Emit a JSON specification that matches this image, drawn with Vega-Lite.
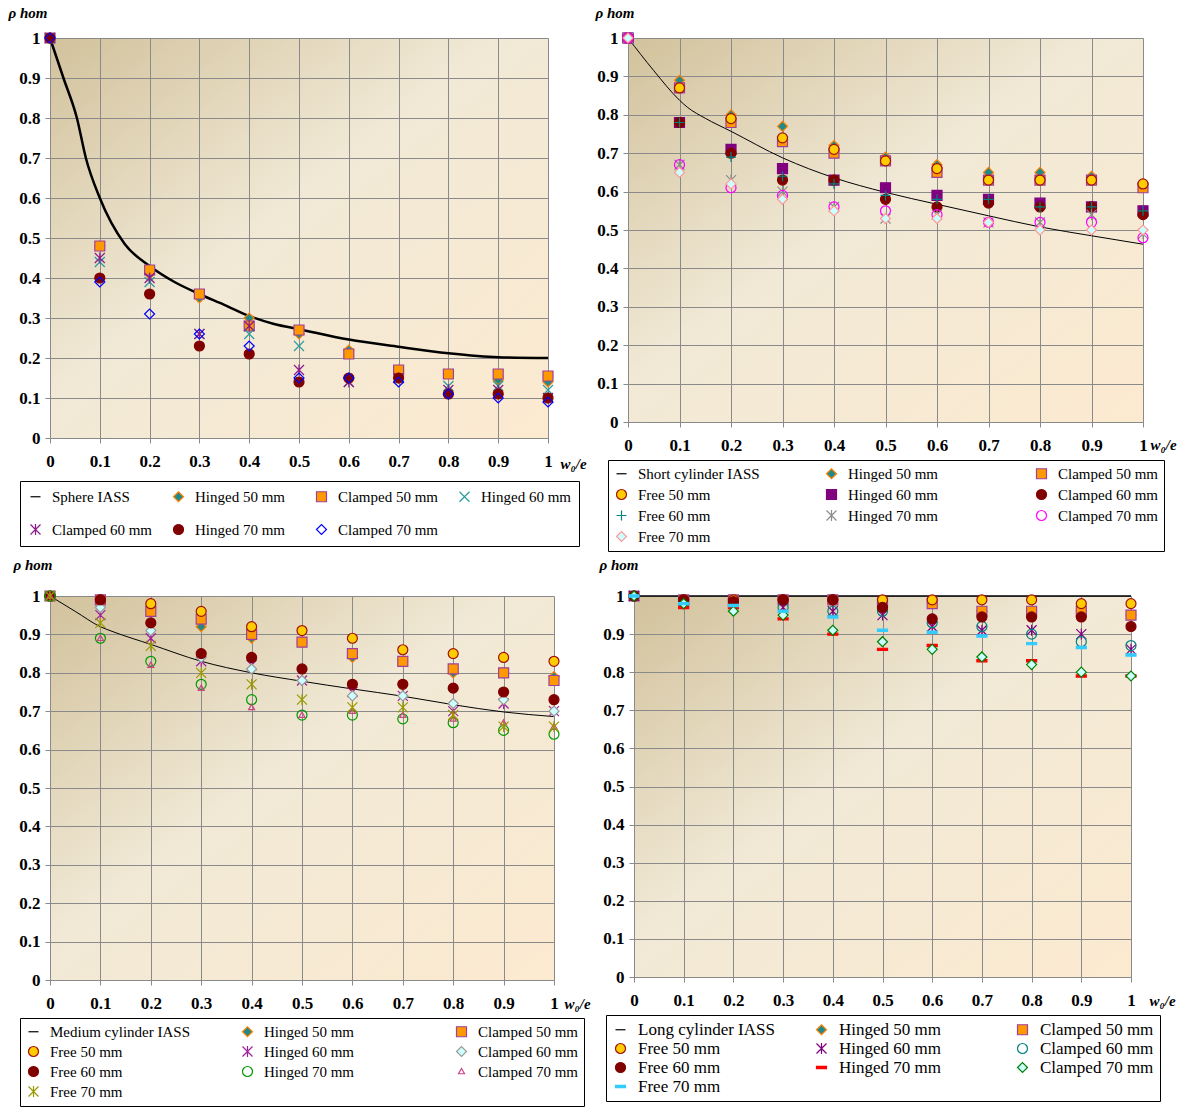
{
"$schema": "https://vega.github.io/schema/vega-lite/v6.json",
"padding": {"left": 8, "top": 5, "right": 5, "bottom": 0},
"spacing": 5,
"resolve": {"scale": {"fill": "independent", "stroke": "independent", "shape": "independent"}},
"datasets": {
"d1": [
{"x":0,"y":1,"s":"Sphere IASS"},{"x":0.027,"y":0.9,"s":"Sphere IASS"},{"x":0.054,"y":0.8,"s":"Sphere IASS"},{"x":0.072,"y":0.7,"s":"Sphere IASS"},{"x":0.1,"y":0.6,"s":"Sphere IASS"},{"x":0.15,"y":0.485,"s":"Sphere IASS"},{"x":0.2,"y":0.43,"s":"Sphere IASS"},{"x":0.25,"y":0.39,"s":"Sphere IASS"},{"x":0.3,"y":0.36,"s":"Sphere IASS"},{"x":0.35,"y":0.333,"s":"Sphere IASS"},{"x":0.4,"y":0.305,"s":"Sphere IASS"},{"x":0.45,"y":0.285,"s":"Sphere IASS"},{"x":0.5,"y":0.272,"s":"Sphere IASS"},{"x":0.6,"y":0.246,"s":"Sphere IASS"},{"x":0.7,"y":0.228,"s":"Sphere IASS"},{"x":0.8,"y":0.212,"s":"Sphere IASS"},{"x":0.9,"y":0.202,"s":"Sphere IASS"},{"x":1,"y":0.2,"s":"Sphere IASS"},
{"x":0,"y":1,"s":"Hinged 50 mm"},{"x":0.1,"y":0.48,"s":"Hinged 50 mm"},{"x":0.2,"y":0.41,"s":"Hinged 50 mm"},{"x":0.3,"y":0.35,"s":"Hinged 50 mm"},{"x":0.4,"y":0.3,"s":"Hinged 50 mm"},{"x":0.5,"y":0.26,"s":"Hinged 50 mm"},{"x":0.6,"y":0.22,"s":"Hinged 50 mm"},{"x":0.7,"y":0.17,"s":"Hinged 50 mm"},{"x":0.8,"y":0.16,"s":"Hinged 50 mm"},{"x":0.9,"y":0.145,"s":"Hinged 50 mm"},{"x":1,"y":0.14,"s":"Hinged 50 mm"},
{"x":0,"y":1,"s":"Clamped 50 mm"},{"x":0.1,"y":0.48,"s":"Clamped 50 mm"},{"x":0.2,"y":0.42,"s":"Clamped 50 mm"},{"x":0.3,"y":0.36,"s":"Clamped 50 mm"},{"x":0.4,"y":0.28,"s":"Clamped 50 mm"},{"x":0.5,"y":0.27,"s":"Clamped 50 mm"},{"x":0.6,"y":0.21,"s":"Clamped 50 mm"},{"x":0.7,"y":0.17,"s":"Clamped 50 mm"},{"x":0.8,"y":0.16,"s":"Clamped 50 mm"},{"x":0.9,"y":0.16,"s":"Clamped 50 mm"},{"x":1,"y":0.155,"s":"Clamped 50 mm"},
{"x":0,"y":1,"s":"Hinged 60 mm"},{"x":0.1,"y":0.44,"s":"Hinged 60 mm"},{"x":0.2,"y":0.39,"s":"Hinged 60 mm"},{"x":0.3,"y":0.26,"s":"Hinged 60 mm"},{"x":0.4,"y":0.26,"s":"Hinged 60 mm"},{"x":0.5,"y":0.23,"s":"Hinged 60 mm"},{"x":0.6,"y":0.14,"s":"Hinged 60 mm"},{"x":0.7,"y":0.15,"s":"Hinged 60 mm"},{"x":0.8,"y":0.13,"s":"Hinged 60 mm"},{"x":0.9,"y":0.13,"s":"Hinged 60 mm"},{"x":1,"y":0.12,"s":"Hinged 60 mm"},
{"x":0,"y":1,"s":"Clamped 60 mm"},{"x":0.1,"y":0.45,"s":"Clamped 60 mm"},{"x":0.2,"y":0.4,"s":"Clamped 60 mm"},{"x":0.3,"y":0.26,"s":"Clamped 60 mm"},{"x":0.4,"y":0.28,"s":"Clamped 60 mm"},{"x":0.5,"y":0.17,"s":"Clamped 60 mm"},{"x":0.6,"y":0.14,"s":"Clamped 60 mm"},{"x":0.7,"y":0.15,"s":"Clamped 60 mm"},{"x":0.8,"y":0.12,"s":"Clamped 60 mm"},{"x":0.9,"y":0.12,"s":"Clamped 60 mm"},{"x":1,"y":0.1,"s":"Clamped 60 mm"},
{"x":0,"y":1,"s":"Hinged 70 mm"},{"x":0.1,"y":0.4,"s":"Hinged 70 mm"},{"x":0.2,"y":0.36,"s":"Hinged 70 mm"},{"x":0.3,"y":0.23,"s":"Hinged 70 mm"},{"x":0.4,"y":0.21,"s":"Hinged 70 mm"},{"x":0.5,"y":0.14,"s":"Hinged 70 mm"},{"x":0.6,"y":0.15,"s":"Hinged 70 mm"},{"x":0.7,"y":0.15,"s":"Hinged 70 mm"},{"x":0.8,"y":0.11,"s":"Hinged 70 mm"},{"x":0.9,"y":0.11,"s":"Hinged 70 mm"},{"x":1,"y":0.1,"s":"Hinged 70 mm"},
{"x":0,"y":1,"s":"Clamped 70 mm"},{"x":0.1,"y":0.39,"s":"Clamped 70 mm"},{"x":0.2,"y":0.31,"s":"Clamped 70 mm"},{"x":0.3,"y":0.26,"s":"Clamped 70 mm"},{"x":0.4,"y":0.23,"s":"Clamped 70 mm"},{"x":0.5,"y":0.15,"s":"Clamped 70 mm"},{"x":0.6,"y":0.15,"s":"Clamped 70 mm"},{"x":0.7,"y":0.14,"s":"Clamped 70 mm"},{"x":0.8,"y":0.11,"s":"Clamped 70 mm"},{"x":0.9,"y":0.1,"s":"Clamped 70 mm"},{"x":1,"y":0.09,"s":"Clamped 70 mm"}
],
"d2": [
{"x":0,"y":1,"s":"Short cylinder IASS"},{"x":0.05,"y":0.915,"s":"Short cylinder IASS"},{"x":0.1,"y":0.838,"s":"Short cylinder IASS"},{"x":0.115,"y":0.82,"s":"Short cylinder IASS"},{"x":0.15,"y":0.791,"s":"Short cylinder IASS"},{"x":0.2,"y":0.757,"s":"Short cylinder IASS"},{"x":0.3,"y":0.688,"s":"Short cylinder IASS"},{"x":0.4,"y":0.636,"s":"Short cylinder IASS"},{"x":0.5,"y":0.598,"s":"Short cylinder IASS"},{"x":0.6,"y":0.567,"s":"Short cylinder IASS"},{"x":0.7,"y":0.537,"s":"Short cylinder IASS"},{"x":0.8,"y":0.508,"s":"Short cylinder IASS"},{"x":0.9,"y":0.485,"s":"Short cylinder IASS"},{"x":1,"y":0.463,"s":"Short cylinder IASS"},
{"x":0,"y":1,"s":"Hinged 50 mm"},{"x":0.1,"y":0.89,"s":"Hinged 50 mm"},{"x":0.2,"y":0.8,"s":"Hinged 50 mm"},{"x":0.3,"y":0.77,"s":"Hinged 50 mm"},{"x":0.4,"y":0.72,"s":"Hinged 50 mm"},{"x":0.5,"y":0.69,"s":"Hinged 50 mm"},{"x":0.6,"y":0.67,"s":"Hinged 50 mm"},{"x":0.7,"y":0.65,"s":"Hinged 50 mm"},{"x":0.8,"y":0.65,"s":"Hinged 50 mm"},{"x":0.9,"y":0.64,"s":"Hinged 50 mm"},{"x":1,"y":0.62,"s":"Hinged 50 mm"},
{"x":0,"y":1,"s":"Clamped 50 mm"},{"x":0.1,"y":0.87,"s":"Clamped 50 mm"},{"x":0.2,"y":0.78,"s":"Clamped 50 mm"},{"x":0.3,"y":0.73,"s":"Clamped 50 mm"},{"x":0.4,"y":0.7,"s":"Clamped 50 mm"},{"x":0.5,"y":0.68,"s":"Clamped 50 mm"},{"x":0.6,"y":0.65,"s":"Clamped 50 mm"},{"x":0.7,"y":0.63,"s":"Clamped 50 mm"},{"x":0.8,"y":0.63,"s":"Clamped 50 mm"},{"x":0.9,"y":0.63,"s":"Clamped 50 mm"},{"x":1,"y":0.61,"s":"Clamped 50 mm"},
{"x":0,"y":1,"s":"Free 50 mm"},{"x":0.1,"y":0.87,"s":"Free 50 mm"},{"x":0.2,"y":0.79,"s":"Free 50 mm"},{"x":0.3,"y":0.74,"s":"Free 50 mm"},{"x":0.4,"y":0.71,"s":"Free 50 mm"},{"x":0.5,"y":0.68,"s":"Free 50 mm"},{"x":0.6,"y":0.66,"s":"Free 50 mm"},{"x":0.7,"y":0.63,"s":"Free 50 mm"},{"x":0.8,"y":0.63,"s":"Free 50 mm"},{"x":0.9,"y":0.63,"s":"Free 50 mm"},{"x":1,"y":0.62,"s":"Free 50 mm"},
{"x":0,"y":1,"s":"Hinged 60 mm"},{"x":0.1,"y":0.78,"s":"Hinged 60 mm"},{"x":0.2,"y":0.71,"s":"Hinged 60 mm"},{"x":0.3,"y":0.66,"s":"Hinged 60 mm"},{"x":0.4,"y":0.63,"s":"Hinged 60 mm"},{"x":0.5,"y":0.61,"s":"Hinged 60 mm"},{"x":0.6,"y":0.59,"s":"Hinged 60 mm"},{"x":0.7,"y":0.58,"s":"Hinged 60 mm"},{"x":0.8,"y":0.57,"s":"Hinged 60 mm"},{"x":0.9,"y":0.56,"s":"Hinged 60 mm"},{"x":1,"y":0.55,"s":"Hinged 60 mm"},
{"x":0,"y":1,"s":"Clamped 60 mm"},{"x":0.1,"y":0.78,"s":"Clamped 60 mm"},{"x":0.2,"y":0.7,"s":"Clamped 60 mm"},{"x":0.3,"y":0.63,"s":"Clamped 60 mm"},{"x":0.4,"y":0.63,"s":"Clamped 60 mm"},{"x":0.5,"y":0.58,"s":"Clamped 60 mm"},{"x":0.6,"y":0.56,"s":"Clamped 60 mm"},{"x":0.7,"y":0.57,"s":"Clamped 60 mm"},{"x":0.8,"y":0.56,"s":"Clamped 60 mm"},{"x":0.9,"y":0.56,"s":"Clamped 60 mm"},{"x":1,"y":0.54,"s":"Clamped 60 mm"},
{"x":0,"y":1,"s":"Free 60 mm"},{"x":0.1,"y":0.78,"s":"Free 60 mm"},{"x":0.2,"y":0.69,"s":"Free 60 mm"},{"x":0.3,"y":0.64,"s":"Free 60 mm"},{"x":0.4,"y":0.62,"s":"Free 60 mm"},{"x":0.5,"y":0.59,"s":"Free 60 mm"},{"x":0.6,"y":0.58,"s":"Free 60 mm"},{"x":0.7,"y":0.58,"s":"Free 60 mm"},{"x":0.8,"y":0.56,"s":"Free 60 mm"},{"x":0.9,"y":0.56,"s":"Free 60 mm"},{"x":1,"y":0.55,"s":"Free 60 mm"},
{"x":0,"y":1,"s":"Hinged 70 mm"},{"x":0.1,"y":0.67,"s":"Hinged 70 mm"},{"x":0.2,"y":0.63,"s":"Hinged 70 mm"},{"x":0.3,"y":0.6,"s":"Hinged 70 mm"},{"x":0.4,"y":0.56,"s":"Hinged 70 mm"},{"x":0.5,"y":0.53,"s":"Hinged 70 mm"},{"x":0.6,"y":0.54,"s":"Hinged 70 mm"},{"x":0.7,"y":0.52,"s":"Hinged 70 mm"},{"x":0.8,"y":0.52,"s":"Hinged 70 mm"},{"x":0.9,"y":0.54,"s":"Hinged 70 mm"},{"x":1,"y":0.49,"s":"Hinged 70 mm"},
{"x":0,"y":1,"s":"Clamped 70 mm"},{"x":0.1,"y":0.67,"s":"Clamped 70 mm"},{"x":0.2,"y":0.61,"s":"Clamped 70 mm"},{"x":0.3,"y":0.59,"s":"Clamped 70 mm"},{"x":0.4,"y":0.56,"s":"Clamped 70 mm"},{"x":0.5,"y":0.55,"s":"Clamped 70 mm"},{"x":0.6,"y":0.54,"s":"Clamped 70 mm"},{"x":0.7,"y":0.52,"s":"Clamped 70 mm"},{"x":0.8,"y":0.52,"s":"Clamped 70 mm"},{"x":0.9,"y":0.52,"s":"Clamped 70 mm"},{"x":1,"y":0.48,"s":"Clamped 70 mm"},
{"x":0,"y":1,"s":"Free 70 mm"},{"x":0.1,"y":0.65,"s":"Free 70 mm"},{"x":0.2,"y":0.62,"s":"Free 70 mm"},{"x":0.3,"y":0.58,"s":"Free 70 mm"},{"x":0.4,"y":0.55,"s":"Free 70 mm"},{"x":0.5,"y":0.53,"s":"Free 70 mm"},{"x":0.6,"y":0.53,"s":"Free 70 mm"},{"x":0.7,"y":0.52,"s":"Free 70 mm"},{"x":0.8,"y":0.5,"s":"Free 70 mm"},{"x":0.9,"y":0.5,"s":"Free 70 mm"},{"x":1,"y":0.5,"s":"Free 70 mm"}
],
"d3": [
{"x":0,"y":1,"s":"Medium cylinder IASS"},{"x":0.05,"y":0.96,"s":"Medium cylinder IASS"},{"x":0.1,"y":0.92,"s":"Medium cylinder IASS"},{"x":0.125,"y":0.907,"s":"Medium cylinder IASS"},{"x":0.2,"y":0.874,"s":"Medium cylinder IASS"},{"x":0.3,"y":0.83,"s":"Medium cylinder IASS"},{"x":0.4,"y":0.8,"s":"Medium cylinder IASS"},{"x":0.5,"y":0.778,"s":"Medium cylinder IASS"},{"x":0.6,"y":0.758,"s":"Medium cylinder IASS"},{"x":0.7,"y":0.739,"s":"Medium cylinder IASS"},{"x":0.8,"y":0.717,"s":"Medium cylinder IASS"},{"x":0.9,"y":0.698,"s":"Medium cylinder IASS"},{"x":1,"y":0.686,"s":"Medium cylinder IASS"},
{"x":0,"y":1,"s":"Hinged 50 mm"},{"x":0.1,"y":0.99,"s":"Hinged 50 mm"},{"x":0.2,"y":0.97,"s":"Hinged 50 mm"},{"x":0.3,"y":0.92,"s":"Hinged 50 mm"},{"x":0.4,"y":0.89,"s":"Hinged 50 mm"},{"x":0.5,"y":0.88,"s":"Hinged 50 mm"},{"x":0.6,"y":0.84,"s":"Hinged 50 mm"},{"x":0.7,"y":0.83,"s":"Hinged 50 mm"},{"x":0.8,"y":0.8,"s":"Hinged 50 mm"},{"x":0.9,"y":0.8,"s":"Hinged 50 mm"},{"x":1,"y":0.79,"s":"Hinged 50 mm"},
{"x":0,"y":1,"s":"Clamped 50 mm"},{"x":0.1,"y":0.99,"s":"Clamped 50 mm"},{"x":0.2,"y":0.96,"s":"Clamped 50 mm"},{"x":0.3,"y":0.94,"s":"Clamped 50 mm"},{"x":0.4,"y":0.9,"s":"Clamped 50 mm"},{"x":0.5,"y":0.88,"s":"Clamped 50 mm"},{"x":0.6,"y":0.85,"s":"Clamped 50 mm"},{"x":0.7,"y":0.83,"s":"Clamped 50 mm"},{"x":0.8,"y":0.81,"s":"Clamped 50 mm"},{"x":0.9,"y":0.8,"s":"Clamped 50 mm"},{"x":1,"y":0.78,"s":"Clamped 50 mm"},
{"x":0,"y":1,"s":"Free 50 mm"},{"x":0.1,"y":0.99,"s":"Free 50 mm"},{"x":0.2,"y":0.98,"s":"Free 50 mm"},{"x":0.3,"y":0.96,"s":"Free 50 mm"},{"x":0.4,"y":0.92,"s":"Free 50 mm"},{"x":0.5,"y":0.91,"s":"Free 50 mm"},{"x":0.6,"y":0.89,"s":"Free 50 mm"},{"x":0.7,"y":0.86,"s":"Free 50 mm"},{"x":0.8,"y":0.85,"s":"Free 50 mm"},{"x":0.9,"y":0.84,"s":"Free 50 mm"},{"x":1,"y":0.83,"s":"Free 50 mm"},
{"x":0,"y":1,"s":"Hinged 60 mm"},{"x":0.1,"y":0.95,"s":"Hinged 60 mm"},{"x":0.2,"y":0.89,"s":"Hinged 60 mm"},{"x":0.3,"y":0.83,"s":"Hinged 60 mm"},{"x":0.4,"y":0.82,"s":"Hinged 60 mm"},{"x":0.5,"y":0.78,"s":"Hinged 60 mm"},{"x":0.6,"y":0.75,"s":"Hinged 60 mm"},{"x":0.7,"y":0.74,"s":"Hinged 60 mm"},{"x":0.8,"y":0.7,"s":"Hinged 60 mm"},{"x":0.9,"y":0.72,"s":"Hinged 60 mm"},{"x":1,"y":0.7,"s":"Hinged 60 mm"},
{"x":0,"y":1,"s":"Clamped 60 mm"},{"x":0.1,"y":0.97,"s":"Clamped 60 mm"},{"x":0.2,"y":0.91,"s":"Clamped 60 mm"},{"x":0.3,"y":0.84,"s":"Clamped 60 mm"},{"x":0.4,"y":0.81,"s":"Clamped 60 mm"},{"x":0.5,"y":0.78,"s":"Clamped 60 mm"},{"x":0.6,"y":0.74,"s":"Clamped 60 mm"},{"x":0.7,"y":0.74,"s":"Clamped 60 mm"},{"x":0.8,"y":0.72,"s":"Clamped 60 mm"},{"x":0.9,"y":0.73,"s":"Clamped 60 mm"},{"x":1,"y":0.7,"s":"Clamped 60 mm"},
{"x":0,"y":1,"s":"Free 60 mm"},{"x":0.1,"y":0.99,"s":"Free 60 mm"},{"x":0.2,"y":0.93,"s":"Free 60 mm"},{"x":0.3,"y":0.85,"s":"Free 60 mm"},{"x":0.4,"y":0.84,"s":"Free 60 mm"},{"x":0.5,"y":0.81,"s":"Free 60 mm"},{"x":0.6,"y":0.77,"s":"Free 60 mm"},{"x":0.7,"y":0.77,"s":"Free 60 mm"},{"x":0.8,"y":0.76,"s":"Free 60 mm"},{"x":0.9,"y":0.75,"s":"Free 60 mm"},{"x":1,"y":0.73,"s":"Free 60 mm"},
{"x":0,"y":1,"s":"Hinged 70 mm"},{"x":0.1,"y":0.89,"s":"Hinged 70 mm"},{"x":0.2,"y":0.83,"s":"Hinged 70 mm"},{"x":0.3,"y":0.77,"s":"Hinged 70 mm"},{"x":0.4,"y":0.73,"s":"Hinged 70 mm"},{"x":0.5,"y":0.69,"s":"Hinged 70 mm"},{"x":0.6,"y":0.69,"s":"Hinged 70 mm"},{"x":0.7,"y":0.68,"s":"Hinged 70 mm"},{"x":0.8,"y":0.67,"s":"Hinged 70 mm"},{"x":0.9,"y":0.65,"s":"Hinged 70 mm"},{"x":1,"y":0.64,"s":"Hinged 70 mm"},
{"x":0,"y":1,"s":"Clamped 70 mm"},{"x":0.1,"y":0.89,"s":"Clamped 70 mm"},{"x":0.2,"y":0.82,"s":"Clamped 70 mm"},{"x":0.3,"y":0.76,"s":"Clamped 70 mm"},{"x":0.4,"y":0.71,"s":"Clamped 70 mm"},{"x":0.5,"y":0.69,"s":"Clamped 70 mm"},{"x":0.6,"y":0.7,"s":"Clamped 70 mm"},{"x":0.7,"y":0.69,"s":"Clamped 70 mm"},{"x":0.8,"y":0.68,"s":"Clamped 70 mm"},{"x":0.9,"y":0.67,"s":"Clamped 70 mm"},{"x":1,"y":0.66,"s":"Clamped 70 mm"},
{"x":0,"y":1,"s":"Free 70 mm"},{"x":0.1,"y":0.93,"s":"Free 70 mm"},{"x":0.2,"y":0.87,"s":"Free 70 mm"},{"x":0.3,"y":0.8,"s":"Free 70 mm"},{"x":0.4,"y":0.77,"s":"Free 70 mm"},{"x":0.5,"y":0.73,"s":"Free 70 mm"},{"x":0.6,"y":0.71,"s":"Free 70 mm"},{"x":0.7,"y":0.71,"s":"Free 70 mm"},{"x":0.8,"y":0.69,"s":"Free 70 mm"},{"x":0.9,"y":0.66,"s":"Free 70 mm"},{"x":1,"y":0.66,"s":"Free 70 mm"}
],
"d4": [
{"x":0,"y":1,"s":"Long cylinder IASS"},{"x":0.2,"y":1,"s":"Long cylinder IASS"},{"x":0.4,"y":1,"s":"Long cylinder IASS"},{"x":0.6,"y":1,"s":"Long cylinder IASS"},{"x":0.8,"y":1,"s":"Long cylinder IASS"},{"x":1,"y":1,"s":"Long cylinder IASS"},
{"x":0,"y":1,"s":"Hinged 50 mm"},{"x":0.1,"y":0.99,"s":"Hinged 50 mm"},{"x":0.2,"y":0.99,"s":"Hinged 50 mm"},{"x":0.3,"y":0.99,"s":"Hinged 50 mm"},{"x":0.4,"y":0.99,"s":"Hinged 50 mm"},{"x":0.5,"y":0.98,"s":"Hinged 50 mm"},{"x":0.6,"y":0.98,"s":"Hinged 50 mm"},{"x":0.7,"y":0.96,"s":"Hinged 50 mm"},{"x":0.8,"y":0.96,"s":"Hinged 50 mm"},{"x":0.9,"y":0.96,"s":"Hinged 50 mm"},{"x":1,"y":0.95,"s":"Hinged 50 mm"},
{"x":0,"y":1,"s":"Clamped 50 mm"},{"x":0.1,"y":0.99,"s":"Clamped 50 mm"},{"x":0.2,"y":0.99,"s":"Clamped 50 mm"},{"x":0.3,"y":0.99,"s":"Clamped 50 mm"},{"x":0.4,"y":0.99,"s":"Clamped 50 mm"},{"x":0.5,"y":0.98,"s":"Clamped 50 mm"},{"x":0.6,"y":0.98,"s":"Clamped 50 mm"},{"x":0.7,"y":0.96,"s":"Clamped 50 mm"},{"x":0.8,"y":0.96,"s":"Clamped 50 mm"},{"x":0.9,"y":0.96,"s":"Clamped 50 mm"},{"x":1,"y":0.95,"s":"Clamped 50 mm"},
{"x":0,"y":1,"s":"Free 50 mm"},{"x":0.1,"y":0.99,"s":"Free 50 mm"},{"x":0.2,"y":0.99,"s":"Free 50 mm"},{"x":0.3,"y":0.99,"s":"Free 50 mm"},{"x":0.4,"y":0.99,"s":"Free 50 mm"},{"x":0.5,"y":0.99,"s":"Free 50 mm"},{"x":0.6,"y":0.99,"s":"Free 50 mm"},{"x":0.7,"y":0.99,"s":"Free 50 mm"},{"x":0.8,"y":0.99,"s":"Free 50 mm"},{"x":0.9,"y":0.98,"s":"Free 50 mm"},{"x":1,"y":0.98,"s":"Free 50 mm"},
{"x":0,"y":1,"s":"Hinged 60 mm"},{"x":0.1,"y":0.98,"s":"Hinged 60 mm"},{"x":0.2,"y":0.98,"s":"Hinged 60 mm"},{"x":0.3,"y":0.97,"s":"Hinged 60 mm"},{"x":0.4,"y":0.96,"s":"Hinged 60 mm"},{"x":0.5,"y":0.95,"s":"Hinged 60 mm"},{"x":0.6,"y":0.92,"s":"Hinged 60 mm"},{"x":0.7,"y":0.91,"s":"Hinged 60 mm"},{"x":0.8,"y":0.91,"s":"Hinged 60 mm"},{"x":0.9,"y":0.9,"s":"Hinged 60 mm"},{"x":1,"y":0.86,"s":"Hinged 60 mm"},
{"x":0,"y":1,"s":"Clamped 60 mm"},{"x":0.1,"y":0.98,"s":"Clamped 60 mm"},{"x":0.2,"y":0.98,"s":"Clamped 60 mm"},{"x":0.3,"y":0.97,"s":"Clamped 60 mm"},{"x":0.4,"y":0.96,"s":"Clamped 60 mm"},{"x":0.5,"y":0.96,"s":"Clamped 60 mm"},{"x":0.6,"y":0.93,"s":"Clamped 60 mm"},{"x":0.7,"y":0.92,"s":"Clamped 60 mm"},{"x":0.8,"y":0.9,"s":"Clamped 60 mm"},{"x":0.9,"y":0.88,"s":"Clamped 60 mm"},{"x":1,"y":0.87,"s":"Clamped 60 mm"},
{"x":0,"y":1,"s":"Free 60 mm"},{"x":0.1,"y":0.99,"s":"Free 60 mm"},{"x":0.2,"y":0.985,"s":"Free 60 mm"},{"x":0.3,"y":0.99,"s":"Free 60 mm"},{"x":0.4,"y":0.99,"s":"Free 60 mm"},{"x":0.5,"y":0.97,"s":"Free 60 mm"},{"x":0.6,"y":0.94,"s":"Free 60 mm"},{"x":0.7,"y":0.945,"s":"Free 60 mm"},{"x":0.8,"y":0.945,"s":"Free 60 mm"},{"x":0.9,"y":0.945,"s":"Free 60 mm"},{"x":1,"y":0.92,"s":"Free 60 mm"},
{"x":0,"y":1,"s":"Hinged 70 mm"},{"x":0.1,"y":0.97,"s":"Hinged 70 mm"},{"x":0.2,"y":0.97,"s":"Hinged 70 mm"},{"x":0.3,"y":0.94,"s":"Hinged 70 mm"},{"x":0.4,"y":0.9,"s":"Hinged 70 mm"},{"x":0.5,"y":0.86,"s":"Hinged 70 mm"},{"x":0.6,"y":0.87,"s":"Hinged 70 mm"},{"x":0.7,"y":0.83,"s":"Hinged 70 mm"},{"x":0.8,"y":0.83,"s":"Hinged 70 mm"},{"x":0.9,"y":0.79,"s":"Hinged 70 mm"},{"x":1,"y":0.79,"s":"Hinged 70 mm"},
{"x":0,"y":1,"s":"Clamped 70 mm"},{"x":0.1,"y":0.98,"s":"Clamped 70 mm"},{"x":0.2,"y":0.96,"s":"Clamped 70 mm"},{"x":0.3,"y":0.95,"s":"Clamped 70 mm"},{"x":0.4,"y":0.91,"s":"Clamped 70 mm"},{"x":0.5,"y":0.88,"s":"Clamped 70 mm"},{"x":0.6,"y":0.86,"s":"Clamped 70 mm"},{"x":0.7,"y":0.84,"s":"Clamped 70 mm"},{"x":0.8,"y":0.82,"s":"Clamped 70 mm"},{"x":0.9,"y":0.8,"s":"Clamped 70 mm"},{"x":1,"y":0.79,"s":"Clamped 70 mm"},
{"x":0,"y":1,"s":"Free 70 mm"},{"x":0.1,"y":0.98,"s":"Free 70 mm"},{"x":0.2,"y":0.975,"s":"Free 70 mm"},{"x":0.3,"y":0.96,"s":"Free 70 mm"},{"x":0.4,"y":0.945,"s":"Free 70 mm"},{"x":0.5,"y":0.91,"s":"Free 70 mm"},{"x":0.6,"y":0.905,"s":"Free 70 mm"},{"x":0.7,"y":0.895,"s":"Free 70 mm"},{"x":0.8,"y":0.875,"s":"Free 70 mm"},{"x":0.9,"y":0.865,"s":"Free 70 mm"},{"x":1,"y":0.845,"s":"Free 70 mm"}
]
},
"vconcat": [
{"hconcat": [
{"width": 498, "height": 400, "data": {"name": "d1"},
 "encoding": {
  "x": {"field": "x", "type": "quantitative", "scale": {"domain": [0, 1], "nice": false}, "axis": {"values": [0,0.1,0.2,0.3,0.4,0.5,0.6,0.7,0.8,0.9,1], "format": ".1~f", "title": "w₀/e", "titleX": 510, "titleY": 30, "titleAlign": "left", "titleBaseline": "alphabetic"}},
  "y": {"field": "y", "type": "quantitative", "scale": {"domain": [0, 1], "nice": false}, "axis": {"values": [0,0.1,0.2,0.3,0.4,0.5,0.6,0.7,0.8,0.9,1], "format": ".1~f", "title": "ρ hom", "titleAngle": 0, "titleX": -42, "titleY": -21, "titleAlign": "left", "titleBaseline": "alphabetic"}}
 },
 "layer": [
  {"transform": [{"filter": "datum.s == 'Sphere IASS'"}], "mark": {"type": "line", "color": "black", "strokeWidth": 2.5, "interpolate": "monotone"}, "encoding": {}},
  {"transform": [{"filter": "datum.s != 'Sphere IASS'"}], "mark": {"type": "point", "filled": true, "opacity": 1, "size": 100, "strokeWidth": 1.2},
   "encoding": {
    "fill": {"field": "s", "type": "nominal", "scale": {"domain": ["Sphere IASS","Hinged 50 mm","Clamped 50 mm","Hinged 60 mm","Clamped 60 mm","Hinged 70 mm","Clamped 70 mm"], "range": ["transparent","#1f8a8a","#ff9900","transparent","transparent","#800000","transparent"]}, "legend": {"title": null, "columns": 4, "rowPadding": 16, "columnPadding": 19, "gridAlign": "all"}},
    "stroke": {"field": "s", "type": "nominal", "scale": {"domain": ["Sphere IASS","Hinged 50 mm","Clamped 50 mm","Hinged 60 mm","Clamped 60 mm","Hinged 70 mm","Clamped 70 mm"], "range": ["black","#ff8000","#a0409a","#2a9d9d","#8b1a8b","#800000","#0000ff"]}, "legend": {"title": null, "columns": 4, "rowPadding": 16, "columnPadding": 19, "gridAlign": "all"}},
    "shape": {"field": "s", "type": "nominal", "scale": {"domain": ["Sphere IASS","Hinged 50 mm","Clamped 50 mm","Hinged 60 mm","Clamped 60 mm","Hinged 70 mm","Clamped 70 mm"], "range": ["stroke","diamond","square","M-1,-1L1,1M-1,1L1,-1","M-1,-1L1,1M-1,1L1,-1M0,-1.1L0,1.1","circle","diamond"]}, "legend": {"title": null, "columns": 4, "rowPadding": 16, "columnPadding": 19, "gridAlign": "all"}}
   }}
 ]},
{"width": 515, "height": 384, "data": {"name": "d2"},
 "encoding": {
  "x": {"field": "x", "type": "quantitative", "scale": {"domain": [0, 1], "nice": false}, "axis": {"values": [0,0.1,0.2,0.3,0.4,0.5,0.6,0.7,0.8,0.9,1], "format": ".1~f", "title": "w₀/e", "titleX": 522, "titleY": 27, "titleAlign": "left", "titleBaseline": "alphabetic"}},
  "y": {"field": "y", "type": "quantitative", "scale": {"domain": [0, 1], "nice": false}, "axis": {"values": [0,0.1,0.2,0.3,0.4,0.5,0.6,0.7,0.8,0.9,1], "format": ".1~f", "title": "ρ hom", "titleAngle": 0, "titleX": -33, "titleY": -21, "titleAlign": "left", "titleBaseline": "alphabetic"}}
 },
 "layer": [
  {"transform": [{"filter": "datum.s == 'Short cylinder IASS'"}], "mark": {"type": "line", "color": "black", "strokeWidth": 1, "interpolate": "monotone"}, "encoding": {}},
  {"transform": [{"filter": "datum.s != 'Short cylinder IASS'"}], "mark": {"type": "point", "filled": true, "opacity": 1, "size": 100, "strokeWidth": 1.2},
   "encoding": {
    "fill": {"field": "s", "type": "nominal", "scale": {"domain": ["Short cylinder IASS","Hinged 50 mm","Clamped 50 mm","Free 50 mm","Hinged 60 mm","Clamped 60 mm","Free 60 mm","Hinged 70 mm","Clamped 70 mm","Free 70 mm"], "range": ["transparent","#1f8a8a","#ff9900","#ffcc00","#800080","#800000","transparent","transparent","transparent","#ccffff"]}, "legend": {"title": null, "columns": 3, "rowPadding": 4, "columnPadding": 64, "gridAlign": "all", "offset": 7, "padding": 6}},
    "stroke": {"field": "s", "type": "nominal", "scale": {"domain": ["Short cylinder IASS","Hinged 50 mm","Clamped 50 mm","Free 50 mm","Hinged 60 mm","Clamped 60 mm","Free 60 mm","Hinged 70 mm","Clamped 70 mm","Free 70 mm"], "range": ["black","#ff8000","#a0409a","#a01010","#800080","#800000","#008080","#8c8c8c","#ff00ff","#ff9999"]}, "legend": {"title": null, "columns": 3, "rowPadding": 4, "columnPadding": 64, "gridAlign": "all", "offset": 7, "padding": 6}},
    "shape": {"field": "s", "type": "nominal", "scale": {"domain": ["Short cylinder IASS","Hinged 50 mm","Clamped 50 mm","Free 50 mm","Hinged 60 mm","Clamped 60 mm","Free 60 mm","Hinged 70 mm","Clamped 70 mm","Free 70 mm"], "range": ["stroke","diamond","square","circle","square","circle","M-1,0L1,0M0,-1L0,1","M-1,-1L1,1M-1,1L1,-1M0,-1.1L0,1.1","circle","diamond"]}, "legend": {"title": null, "columns": 3, "rowPadding": 4, "columnPadding": 64, "gridAlign": "all", "offset": 7, "padding": 6}}
   }}
 ]}
], "spacing": 8, "resolve": {"scale": {"fill": "independent", "stroke": "independent", "shape": "independent"}}},
{"hconcat": [
{"width": 504, "height": 384, "data": {"name": "d3"},
 "encoding": {
  "x": {"field": "x", "type": "quantitative", "scale": {"domain": [0, 1], "nice": false}, "axis": {"values": [0,0.1,0.2,0.3,0.4,0.5,0.6,0.7,0.8,0.9,1], "format": ".1~f", "title": "w₀/e", "titleX": 514, "titleY": 28, "titleAlign": "left", "titleBaseline": "alphabetic"}},
  "y": {"field": "y", "type": "quantitative", "scale": {"domain": [0, 1], "nice": false}, "axis": {"values": [0,0.1,0.2,0.3,0.4,0.5,0.6,0.7,0.8,0.9,1], "format": ".1~f", "title": "ρ hom", "titleAngle": 0, "titleX": -37, "titleY": -27, "titleAlign": "left", "titleBaseline": "alphabetic"}}
 },
 "layer": [
  {"transform": [{"filter": "datum.s == 'Medium cylinder IASS'"}], "mark": {"type": "line", "color": "black", "strokeWidth": 1, "interpolate": "monotone"}, "encoding": {}},
  {"transform": [{"filter": "datum.s != 'Medium cylinder IASS'"}], "mark": {"type": "point", "filled": true, "opacity": 1, "size": 100, "strokeWidth": 1.2},
   "encoding": {
    "fill": {"field": "s", "type": "nominal", "scale": {"domain": ["Medium cylinder IASS","Hinged 50 mm","Clamped 50 mm","Free 50 mm","Hinged 60 mm","Clamped 60 mm","Free 60 mm","Hinged 70 mm","Clamped 70 mm","Free 70 mm"], "range": ["transparent","#1f8a8a","#ff9900","#ffcc00","transparent","#ccffff","#800000","transparent","transparent","transparent"]}, "legend": {"title": null, "columns": 3, "rowPadding": 3, "columnPadding": 50, "gridAlign": "all", "offset": 7, "padding": 6}},
    "stroke": {"field": "s", "type": "nominal", "scale": {"domain": ["Medium cylinder IASS","Hinged 50 mm","Clamped 50 mm","Free 50 mm","Hinged 60 mm","Clamped 60 mm","Free 60 mm","Hinged 70 mm","Clamped 70 mm","Free 70 mm"], "range": ["black","#ff8000","#a0409a","#a01010","#a020a0","#999999","#800000","#009900","#cc4488","#999900"]}, "legend": {"title": null, "columns": 3, "rowPadding": 3, "columnPadding": 50, "gridAlign": "all", "offset": 7, "padding": 6}},
    "shape": {"field": "s", "type": "nominal", "scale": {"domain": ["Medium cylinder IASS","Hinged 50 mm","Clamped 50 mm","Free 50 mm","Hinged 60 mm","Clamped 60 mm","Free 60 mm","Hinged 70 mm","Clamped 70 mm","Free 70 mm"], "range": ["stroke","diamond","square","circle","M-1,-1L1,1M-1,1L1,-1M0,-1.1L0,1.1","diamond","circle","circle","M0,-0.6L0.6,0.45L-0.6,0.45Z","M-1,-1L1,1M-1,1L1,-1M0,-1.1L0,1.1"]}, "legend": {"title": null, "columns": 3, "rowPadding": 3, "columnPadding": 50, "gridAlign": "all", "offset": 7, "padding": 6}}
   }}
 ]},
{"width": 497, "height": 381, "data": {"name": "d4"},
 "encoding": {
  "x": {"field": "x", "type": "quantitative", "scale": {"domain": [0, 1], "nice": false}, "axis": {"values": [0,0.1,0.2,0.3,0.4,0.5,0.6,0.7,0.8,0.9,1], "format": ".1~f", "title": "w₀/e", "titleX": 515, "titleY": 28, "titleAlign": "left", "titleBaseline": "alphabetic"}},
  "y": {"field": "y", "type": "quantitative", "scale": {"domain": [0, 1], "nice": false}, "axis": {"values": [0,0.1,0.2,0.3,0.4,0.5,0.6,0.7,0.8,0.9,1], "format": ".1~f", "title": "ρ hom", "titleAngle": 0, "titleX": -35, "titleY": -27, "titleAlign": "left", "titleBaseline": "alphabetic"}}
 },
 "layer": [
  {"transform": [{"filter": "datum.s == 'Long cylinder IASS'"}], "mark": {"type": "line", "color": "black", "strokeWidth": 1.5}, "encoding": {}},
  {"transform": [{"filter": "datum.s != 'Long cylinder IASS'"}], "mark": {"type": "point", "filled": true, "opacity": 1, "size": 100, "strokeWidth": 1.2},
   "encoding": {
    "fill": {"field": "s", "type": "nominal", "scale": {"domain": ["Long cylinder IASS","Hinged 50 mm","Clamped 50 mm","Free 50 mm","Hinged 60 mm","Clamped 60 mm","Free 60 mm","Hinged 70 mm","Clamped 70 mm","Free 70 mm"], "range": ["transparent","#1f8a8a","#ff9900","#ffcc00","transparent","transparent","#800000","#ff0000","#ccffff","#33ccff"]}, "legend": {"title": null, "columns": 3, "rowPadding": 1, "columnPadding": 38, "gridAlign": "all", "labelFontSize": 17, "offset": 7, "padding": 6}},
    "stroke": {"field": "s", "type": "nominal", "scale": {"domain": ["Long cylinder IASS","Hinged 50 mm","Clamped 50 mm","Free 50 mm","Hinged 60 mm","Clamped 60 mm","Free 60 mm","Hinged 70 mm","Clamped 70 mm","Free 70 mm"], "range": ["black","#ff8000","#a0409a","#a01010","#800080","#008080","#800000","#ff0000","#008000","#33ccff"]}, "legend": {"title": null, "columns": 3, "rowPadding": 1, "columnPadding": 38, "gridAlign": "all", "labelFontSize": 17, "offset": 7, "padding": 6}},
    "shape": {"field": "s", "type": "nominal", "scale": {"domain": ["Long cylinder IASS","Hinged 50 mm","Clamped 50 mm","Free 50 mm","Hinged 60 mm","Clamped 60 mm","Free 60 mm","Hinged 70 mm","Clamped 70 mm","Free 70 mm"], "range": ["stroke","diamond","square","circle","M-1,-1L1,1M-1,1L1,-1M0,-1.1L0,1.1","circle","circle","M-1,-0.22L1,-0.22L1,0.22L-1,0.22Z","diamond","M-1,-0.22L1,-0.22L1,0.22L-1,0.22Z"]}, "legend": {"title": null, "columns": 3, "rowPadding": 1, "columnPadding": 38, "gridAlign": "all", "labelFontSize": 17, "offset": 7, "padding": 6}}
   }}
 ]}
], "spacing": 8, "resolve": {"scale": {"fill": "independent", "stroke": "independent", "shape": "independent"}}}
],
"config": {
 "font": "Liberation Serif",
 "view": {"stroke": null, "fill": {"gradient": "linear", "x1": 0, "y1": 0, "x2": 1, "y2": 1, "stops": [{"offset": 0, "color": "#d2c29c"}, {"offset": 0.45, "color": "#f1e9d6"}, {"offset": 1, "color": "#fcead0"}]}},
 "axis": {"labelFont": "Liberation Serif", "labelFontSize": 17, "labelFontWeight": "bold", "labelColor": "black", "labelFlush": false, "labelOverlap": false, "grid": true, "gridColor": "#8a8a8a", "gridOpacity": 1, "gridWidth": 1, "domainColor": "#8a8a8a", "domainWidth": 1, "tickColor": "#8a8a8a", "tickSize": 5, "titleFont": "Liberation Serif", "titleFontStyle": "italic", "titleFontWeight": "bold", "titleFontSize": 15, "titleColor": "black"},
 "axisX": {"labelPadding": 10, "labelAngle": 0},
 "axisY": {"labelPadding": 5},
 "legend": {"orient": "bottom", "direction": "horizontal", "strokeColor": "black", "padding": 8, "offset": 10, "labelFont": "Liberation Serif", "labelFontSize": 15, "labelColor": "black", "labelOffset": 9, "labelLimit": 400, "symbolSize": 100, "symbolStrokeWidth": 1.2, "layout": {"bottom": {"anchor": "middle"}}}
}
}
